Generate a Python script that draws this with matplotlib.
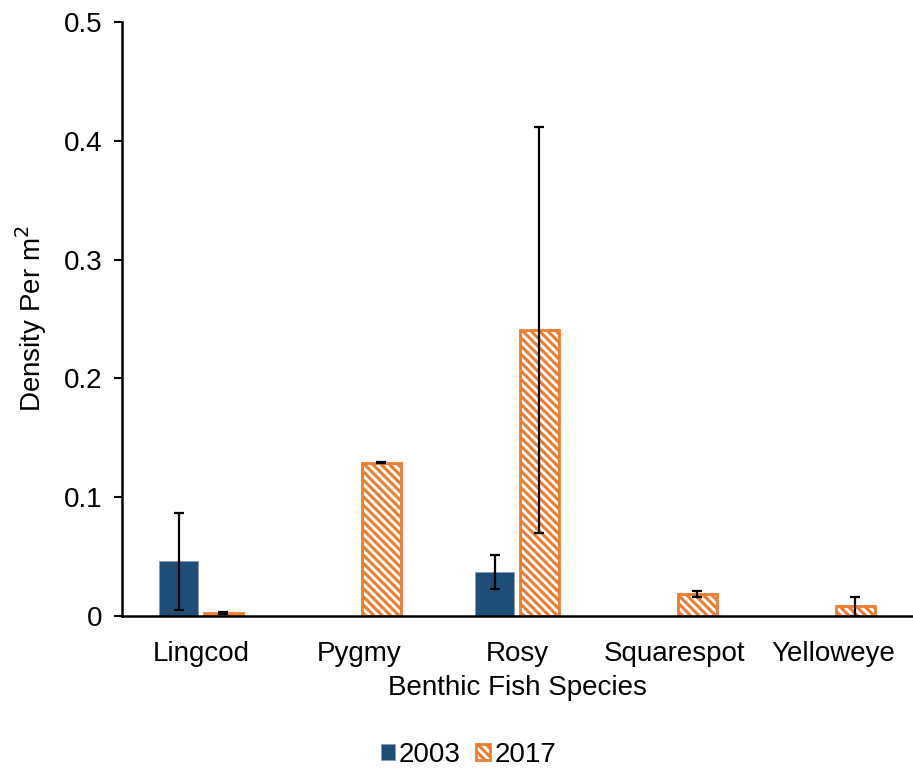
import matplotlib
matplotlib.use("Agg")
import matplotlib.pyplot as plt
import numpy as np

species = ["Lingcod", "Pygmy", "Rosy", "Squarespot", "Yelloweye"]
vals_2003 = [0.046, 0.0, 0.037, 0.0, 0.0]
err_2003 = [0.041, 0.0, 0.014, 0.0, 0.0]
vals_2017 = [0.0025, 0.129, 0.241, 0.0185, 0.008]
err_2017 = [0.0005, 0.0005, 0.171, 0.0025, 0.008]
has_2003 = [True, False, True, False, False]

plt.rcParams['font.family'] = ['Liberation Sans', 'DejaVu Sans']
plt.rcParams['hatch.linewidth'] = 2.2
plt.rcParams['hatch.color'] = '#ED7D31'

fig = plt.figure(figsize=(9.13, 7.73), dpi=100)
ax = fig.add_axes([122/913, 157/773, 790/913, 594/773])

x = np.arange(len(species))
w = 0.245
gap = 0.038
blue = '#1F4E79'
orange = '#ED7D31'

x03 = [xi - w/2 - gap/2 for xi, h in zip(x, has_2003) if h]
v03 = [v for v, h in zip(vals_2003, has_2003) if h]
e03 = [e for e, h in zip(err_2003, has_2003) if h]
ax.bar(x03, v03, width=w, color=blue, edgecolor='#8a9bb0', linewidth=0.6, label='2003', zorder=2)
ax.errorbar(x03, v03, yerr=e03, fmt='none', ecolor='black', elinewidth=1.6, capsize=3.8, capthick=1.6, zorder=4)

ax.bar(x + w/2 + gap/2, vals_2017, width=w, facecolor='white', edgecolor=orange,
       linewidth=2.0, hatch='\\\\\\\\', label='2017', zorder=2)
ax.errorbar(x + w/2 + gap/2, vals_2017, yerr=err_2017, fmt='none', ecolor='black',
            elinewidth=1.6, capsize=3.8, capthick=1.6, zorder=4)

ax.set_xlim(-0.5, len(species) - 0.5)
ax.set_ylim(0, 0.5)
ax.set_yticks([0, 0.1, 0.2, 0.3, 0.4, 0.5])
ax.set_yticklabels(['0', '0.1', '0.2', '0.3', '0.4', '0.5'])
ax.set_xticks(x)
ax.set_xticklabels(species)
ax.tick_params(axis='y', labelsize=20, length=6, width=1.5, direction='out', pad=8)
ax.tick_params(axis='x', labelsize=20, length=0, pad=18)
ax.spines['top'].set_visible(False)
ax.spines['right'].set_visible(False)
ax.spines['left'].set_linewidth(1.8)
ax.spines['bottom'].set_linewidth(1.8)
ax.spines['bottom'].set_zorder(5)

ax.set_xlabel('Benthic Fish Species', fontsize=20, labelpad=6)
ax.set_ylabel('Density Per m$^2$', fontsize=20, labelpad=11)

leg = fig.legend(loc='lower center', bbox_to_anchor=(0.513, -0.026), ncol=2, frameon=False,
                 fontsize=20, handlelength=0.5, handleheight=0.5, handletextpad=0.15,
                 columnspacing=0.55)

fig.savefig('out.png', dpi=100)
